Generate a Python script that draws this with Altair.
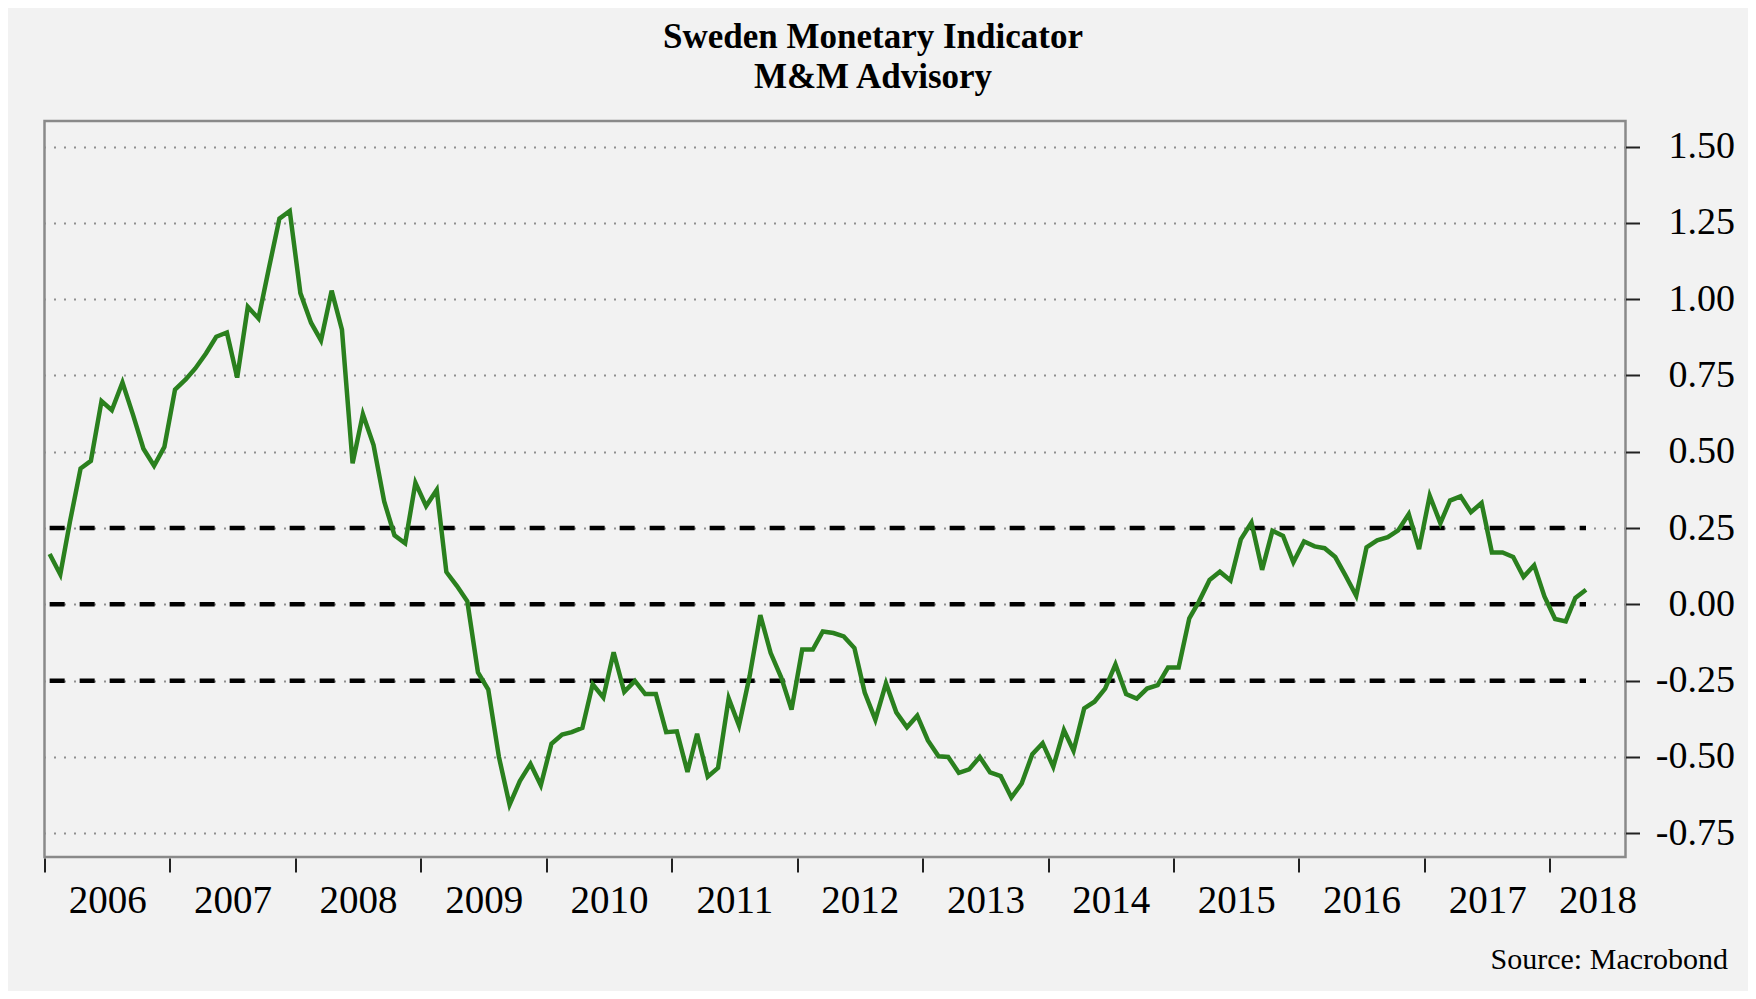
import altair as alt
import pandas as pd

# Monthly values, one list per year
v2006 = [0.165, 0.098, 0.27, 0.445, 0.47, 0.666, 0.636, 0.727, 0.62, 0.51, 0.454, 0.516]
v2007 = [0.704, 0.737, 0.773, 0.822, 0.877, 0.891, 0.743, 0.975, 0.937, 1.10, 1.264, 1.289]
v2008 = [1.02, 0.923, 0.865, 1.028, 0.90, 0.462, 0.623, 0.522, 0.337, 0.226, 0.20, 0.398]
v2009 = [0.322, 0.375, 0.106, 0.06, 0.01, -0.223, -0.279, -0.50, -0.657, -0.579, -0.523, -0.593]
v2010 = [-0.457, -0.427, -0.419, -0.405, -0.262, -0.305, -0.157, -0.287, -0.251, -0.294, -0.294, -0.419]
v2011 = [-0.416, -0.549, -0.424, -0.565, -0.536, -0.308, -0.397, -0.235, -0.035, -0.159, -0.24, -0.345]
v2012 = [-0.148, -0.148, -0.089, -0.094, -0.105, -0.143, -0.289, -0.378, -0.259, -0.354, -0.403, -0.365]
v2013 = [-0.446, -0.498, -0.50, -0.552, -0.541, -0.50, -0.551, -0.563, -0.633, -0.587, -0.491, -0.455]
v2014 = [-0.532, -0.412, -0.48, -0.341, -0.319, -0.276, -0.197, -0.294, -0.309, -0.276, -0.265, -0.207]
v2015 = [-0.207, -0.046, 0.009, 0.08, 0.107, 0.078, 0.213, 0.268, 0.113, 0.241, 0.224, 0.138]
v2016 = [0.206, 0.19, 0.184, 0.155, 0.094, 0.028, 0.187, 0.21, 0.22, 0.242, 0.296, 0.181]
v2017 = [0.356, 0.266, 0.34, 0.354, 0.302, 0.332, 0.17, 0.17, 0.155, 0.09, 0.128, 0.026]
v2018 = [-0.048, -0.056, 0.021, 0.048]

years = list(range(2006, 2019))
by_year = [v2006, v2007, v2008, v2009, v2010, v2011, v2012, v2013, v2014,
           v2015, v2016, v2017, v2018]

ref_levels = [-0.25, 0.0, 0.25]
y_ticks = [-0.75, -0.5, -0.25, 0.0, 0.25, 0.5, 0.75, 1.0, 1.25, 1.5]
title_lines = ["Sweden Monetary Indicator", "M&M Advisory"]
source_text = "Source: Macrobond"

dates, vals = [], []
for yr, lst in zip(years, by_year):
    for i, v in enumerate(lst):
        dates.append(f"{yr}-{i + 1:02d}-16")
        vals.append(v)
df = pd.DataFrame({"date": dates, "value": vals})

ref_df = pd.DataFrame({"level": ref_levels,
                       "start": [dates[0]] * len(ref_levels),
                       "end": [dates[-1]] * len(ref_levels)})

FONT = "Liberation Serif"

x_scale = alt.Scale(type="utc",
                    domain=[alt.DateTime(year=2006, month=1, date=1, utc=True),
                            alt.DateTime(year=2018, month=8, date=9, utc=True)])
y_scale = alt.Scale(domain=[-0.828, 1.584], nice=False, zero=False)

x_axis = alt.Axis(
    values=[alt.DateTime(year=y, month=1, date=1, utc=True) for y in years],
    format="%Y", formatType="utc", title=None, domain=False, grid=False,
    tickSize=14, tickColor="#222222", tickWidth=2, offset=1,
    labelFont=FONT, labelFontSize=39, labelColor="black",
    labelBaseline="alphabetic", labelPadding=40,
    labelFlush=False, labelOverlap=False,
    labelOffset={"condition": {"test": "year(datum.value) == 2018", "value": 47.5},
                 "value": 62.7},
)
y_axis = alt.Axis(
    orient="right", values=y_ticks, title=None, domain=False,
    labelExpr="datum.value < 0 ? '-' + format(-datum.value, '.2f') : format(datum.value, '.2f')",
    tickSize=14, tickColor="#222222", tickWidth=2,
    grid=True, gridColor="#8f8f8f", gridDash=[2, 8], gridWidth=2,
    labelFont=FONT, labelFontSize=38, labelColor="black",
    labelAlign="right", labelPadding=95, labelOverlap=False,
)

line = alt.Chart(df).mark_line(color="#2a801e", strokeWidth=4.5).encode(
    x=alt.X("date:T", scale=x_scale, axis=x_axis),
    y=alt.Y("value:Q", scale=y_scale, axis=y_axis),
)

refs = alt.Chart(ref_df).mark_rule(color="black", strokeWidth=4.5, strokeDash=[15, 15]).encode(
    x=alt.X("start:T"),
    x2="end:T",
    y=alt.Y("level:Q"),
)

source = alt.Chart(pd.DataFrame({"t": [source_text]})).mark_text(
    font=FONT, fontSize=30, color="black", align="right", baseline="alphabetic"
).encode(text="t:N", x=alt.value(1683.5), y=alt.value(848))

chart = alt.layer(refs, line, source).properties(
    width=1581, height=736,
    title=alt.TitleParams(title_lines, font=FONT, fontSize=35, fontWeight="bold",
                          color="black", anchor="middle", dx=38, lineHeight=40,
                          offset=26),
    autosize=alt.AutoSizeParams(type="none"),
    padding={"left": 36.5, "top": 113, "right": 122.5, "bottom": 134},
).configure(background="#f2f2f2").configure_view(
    stroke="#8a8a8a", strokeWidth=2.5, fill="#f2f2f2"
)

chart.save("out.html", embed_options={"renderer": "svg", "actions": False})
